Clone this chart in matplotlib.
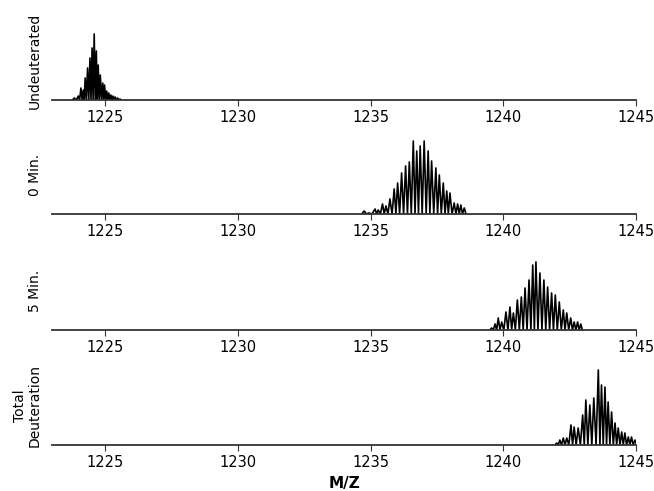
import numpy as np
import matplotlib
matplotlib.use('Agg')
import matplotlib.pyplot as plt

undeut_mz = [1223.84, 1223.99, 1224.09, 1224.18, 1224.25, 1224.34, 1224.43, 1224.51,
             1224.59, 1224.67, 1224.74, 1224.82, 1224.91, 1224.98, 1225.06, 1225.14,
             1225.22, 1225.30, 1225.38, 1225.47, 1225.56]
undeut_int = [2, 4, 12, 10, 22, 32, 42, 52, 66, 49, 35, 25, 17, 15, 9, 7, 5, 4, 3, 2, 1]

min0_mz = [1234.76, 1234.94, 1235.17, 1235.29, 1235.45, 1235.58, 1235.73, 1235.89,
           1236.02, 1236.17, 1236.32, 1236.46, 1236.61, 1236.74, 1236.87, 1237.02,
           1237.17, 1237.30, 1237.46, 1237.59, 1237.74, 1237.87, 1237.99, 1238.15,
           1238.28, 1238.40, 1238.53]
min0_int = [3, 1, 5, 4, 10, 8, 15, 25, 31, 41, 48, 52, 73, 63, 68, 73, 63, 53, 46, 39,
            31, 23, 21, 11, 10, 9, 6]

min5_mz = [1239.56, 1239.69, 1239.81, 1239.94, 1240.10, 1240.25, 1240.38, 1240.53,
           1240.68, 1240.82, 1240.97, 1241.11, 1241.23, 1241.38, 1241.53, 1241.67,
           1241.82, 1241.96, 1242.11, 1242.26, 1242.39, 1242.54, 1242.67, 1242.80,
           1242.92]
min5_int = [2, 6, 12, 8, 18, 23, 17, 30, 33, 42, 50, 65, 68, 57, 50, 43, 37, 35, 28,
            20, 17, 12, 8, 8, 6]

total_mz = [1242.01, 1242.13, 1242.26, 1242.39, 1242.55, 1242.67, 1242.82, 1242.99,
            1243.11, 1243.26, 1243.41, 1243.58, 1243.70, 1243.83, 1243.95, 1244.08,
            1244.21, 1244.33, 1244.46, 1244.58, 1244.71, 1244.83, 1244.96]
total_int = [2, 5, 7, 7, 20, 18, 17, 30, 45, 40, 47, 75, 60, 58, 43, 33, 22, 17, 13,
             12, 8, 8, 5]

labels = ['Undeuterated', '0 Min.', '5 Min.', 'Total\nDeuteration']
spectra = [(undeut_mz, undeut_int), (min0_mz, min0_int),
           (min5_mz, min5_int), (total_mz, total_int)]
xticks = [1225, 1230, 1235, 1240, 1245]


def zigzag(mz, inten):
    # liga os picos passando pela linha de base entre eles
    mz = np.asarray(mz)
    inten = np.asarray(inten, dtype=float)
    mids = (mz[:-1] + mz[1:]) / 2
    xs = [mz[0] - (mz[1] - mz[0]) / 2]
    ys = [0.0]
    for i in range(len(mz)):
        xs.append(mz[i])
        ys.append(inten[i])
        if i < len(mids):
            xs.append(mids[i])
            ys.append(0.0)
    xs.append(mz[-1] + (mz[-1] - mz[-2]) / 2)
    ys.append(0.0)
    return xs, ys


fig = plt.figure(figsize=(6.54, 4.91), dpi=100)
bottoms = [0.7963, 0.5642, 0.3279, 0.0937]

for k in range(4):
    ax = fig.add_axes([0.0795, bottoms[k], 0.893, 0.1589])
    xs, ys = zigzag(*spectra[k])
    ax.plot(xs, ys, color='black', lw=1.2)
    ax.set_xlim(1223, 1245)
    ax.set_ylim(0, 78)
    ax.set_xticks(xticks)
    ax.set_yticks([])
    for s in ['top', 'right', 'left']:
        ax.spines[s].set_visible(False)
    ax.spines['bottom'].set_color('#333333')
    ax.spines['bottom'].set_linewidth(1.3)
    ax.tick_params(axis='x', direction='out', length=4, color='#333333', labelsize=10.5)
    ax.set_ylabel(labels[k], fontsize=10, linespacing=1.1)
    ax.yaxis.set_label_coords(-0.017, 0.5)

ax.set_xlabel('M/Z', fontsize=11, fontweight='bold')

fig.savefig('out.png', dpi=100)
